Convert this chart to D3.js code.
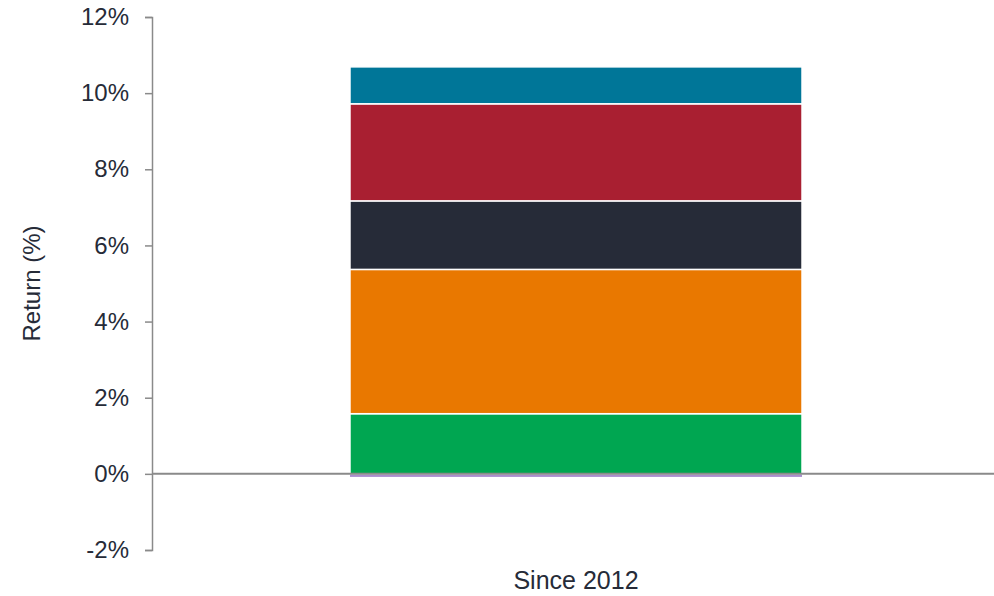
<!DOCTYPE html>
<html>
<head>
<meta charset="utf-8">
<script src="https://cdn.jsdelivr.net/npm/d3@7"></script>
<style>
  html, body { margin: 0; padding: 0; background: #ffffff; }
  svg { display: block; font-family: "Liberation Sans", Arial, sans-serif; }
</style>
</head>
<body>
<svg id="chart" width="994" height="596"></svg>
<script>
// Return contributions (percentage points) for the period shown
const categories = ["Since 2012"];
const seriesKeys = ["negative", "green", "orange", "dark", "red", "blue"];
const seriesColors = ["#a98dce", "#00a651", "#e97800", "#262b38", "#a91f31", "#007698"];
const seriesValues = {
  negative: [-0.08],
  green:    [1.58],
  orange:   [3.79],
  dark:     [1.80],
  red:      [2.55],
  blue:     [0.97]
};
const yTicks = [-2, 0, 2, 4, 6, 8, 10, 12];
const yTickLabels = ["-2%", "0%", "2%", "4%", "6%", "8%", "10%", "12%"];

const rows = categories.map((c, i) => {
  const r = { category: c };
  seriesKeys.forEach(k => { r[k] = seriesValues[k][i]; });
  return r;
});

const svg = d3.select("#chart");
const axisX = 152;

const y = d3.scaleLinear().domain([-2, 12]).range([550, 17]);
const x = d3.scaleBand().domain(categories).range([axisX, 1000])
  .paddingInner(0).paddingOuter(0.438);
const color = d3.scaleOrdinal().domain(seriesKeys).range(seriesColors);

const stacked = d3.stack().keys(seriesKeys).offset(d3.stackOffsetDiverging)(rows);

// Stacked bar segments; positive segments are separated by thin white edges
svg.append("g")
  .selectAll("g")
  .data(stacked)
  .join("g")
    .attr("fill", d => color(d.key))
    .attr("stroke", d => d.key === "negative" ? "none" : "#ffffff")
  .selectAll("rect")
  .data(d => d)
  .join("rect")
    .attr("x", d => x(d.data.category))
    .attr("width", x.bandwidth())
    .attr("y", d => y(Math.max(d[0], d[1])))
    .attr("height", d => Math.abs(y(d[0]) - y(d[1])))
    .attr("stroke-width", 1.5);

// Zero baseline across the plot
svg.append("line")
  .attr("x1", axisX).attr("x2", 994)
  .attr("y1", y(0)).attr("y2", y(0))
  .attr("stroke", "#8a8a8a")
  .attr("stroke-width", 2);

// Left value axis
const yAxis = d3.axisLeft(y)
  .tickValues(yTicks)
  .tickFormat((d, i) => yTickLabels[i])
  .tickSizeInner(7)
  .tickSizeOuter(7)
  .tickPadding(16);

const gy = svg.append("g")
  .attr("transform", `translate(${axisX},0)`)
  .call(yAxis);
gy.select(".domain").attr("stroke", "#8a8a8a").attr("stroke-width", 1.5);
gy.selectAll(".tick line").attr("stroke", "#8a8a8a").attr("stroke-width", 1.5);
gy.selectAll(".tick text")
  .attr("fill", "#262b38")
  .style("font-size", "24px")
  .style("font-family", "'Liberation Sans', Arial, sans-serif");

// Category label
svg.append("text")
  .attr("x", x(categories[0]) + x.bandwidth() / 2)
  .attr("y", 589)
  .attr("text-anchor", "middle")
  .attr("fill", "#262b38")
  .style("font-size", "25px")
  .text(categories[0]);

// Y axis title
svg.append("text")
  .attr("transform", `translate(40,${y(5)}) rotate(-90)`)
  .attr("text-anchor", "middle")
  .attr("fill", "#262b38")
  .style("font-size", "24px")
  .text("Return (%)");
</script>
</body>
</html>
